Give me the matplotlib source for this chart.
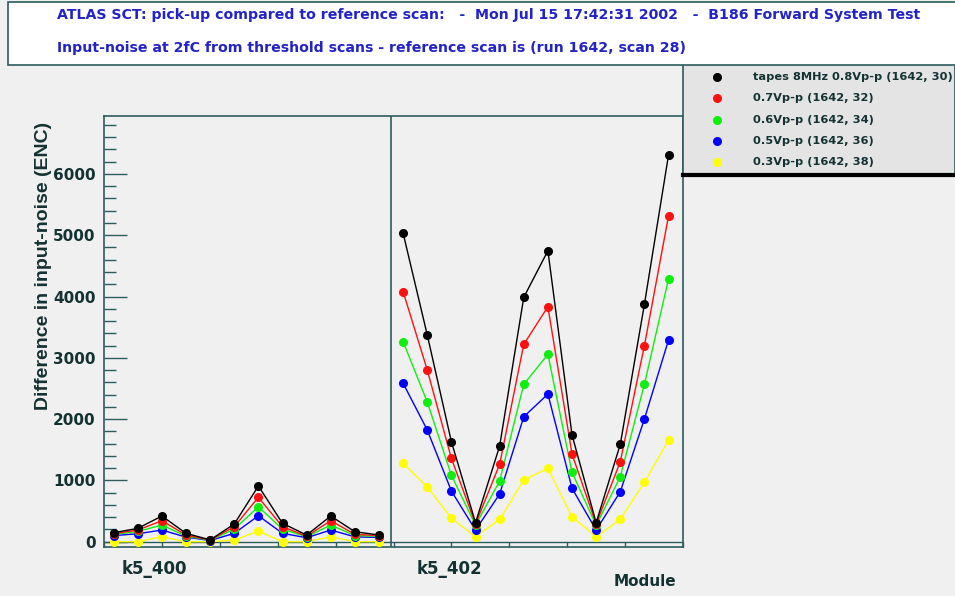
import numpy as np
import matplotlib
matplotlib.use("Agg")
import matplotlib.pyplot as plt
from matplotlib.patches import Rectangle
from matplotlib.ticker import MultipleLocator, FixedLocator

# module labels and scan legend
modules = ["k5_400", "k5_402"]
scan_labels = ["tapes 8MHz 0.8Vp-p (1642, 30)",
               "0.7Vp-p (1642, 32)",
               "0.6Vp-p (1642, 34)",
               "0.5Vp-p (1642, 36)",
               "0.3Vp-p (1642, 38)"]
scan_colors = ["#000000", "#ff1010", "#10ee10", "#0000ff", "#ffff00"]

# difference in input-noise (ENC), 12 channels per module
k5_400 = [
    [147, 218, 419, 137, 30, 289, 909, 300, 109, 419, 163, 109],
    [130, 191, 343, 109, 28, 245, 724, 245, 90, 343, 120, 100],
    [118, 168, 272, 90, 25, 205, 571, 205, 80, 272, 100, 88],
    [100, 130, 191, 75, 20, 137, 424, 137, 65, 191, 80, 70],
    [0, 0, 82, 0, 0, 28, 174, 0, 0, 82, 0, 0],
]
k5_402 = [
    [5031, 3372, 1631, 310, 1561, 3987, 4747, 1741, 310, 1588, 3872, 6308],
    [4078, 2801, 1360, 290, 1262, 3220, 3834, 1430, 290, 1305, 3198, 5313],
    [3263, 2279, 1083, 270, 990, 2567, 3057, 1132, 265, 1060, 2567, 4286],
    [2584, 1822, 827, 190, 778, 2039, 2409, 871, 190, 816, 2002, 3290],
    [1279, 897, 381, 82, 365, 1006, 1197, 408, 80, 365, 969, 1659],
]

W, H = 955, 596
bg = "#f0f0f0"
frame = "#2c5c5c"
txt = "#143232"

fig = plt.figure(figsize=(W / 100, H / 100), dpi=100, facecolor=bg)

# title box
fig.patches.append(Rectangle((8 / W, 1 - 65 / H), 1.0, 63 / H, transform=fig.transFigure,
                             facecolor="white", edgecolor=frame, lw=1.2))
fig.text(57 / W, 1 - 15 / H,
         "ATLAS SCT: pick-up compared to reference scan:   -  Mon Jul 15 17:42:31 2002   -  B186 Forward System Test",
         color="#2323c8", fontsize=10.2, fontweight="bold", va="center", ha="left")
fig.text(57 / W, 1 - 48 / H,
         "Input-noise at 2fC from threshold scans - reference scan is (run 1642, scan 28)",
         color="#2323c8", fontsize=10.2, fontweight="bold", va="center", ha="left")

ax = fig.add_axes([104 / W, 1 - 547 / H, 579 / W, 431 / H], facecolor=bg)

x_left = np.arange(12)
x_right = np.arange(12, 24)
for i in range(4, -1, -1):
    c = scan_colors[i]
    ax.plot(x_left, k5_400[i], color=c, lw=1.0, marker="o", ms=5.5, mec=c, zorder=3 + (4 - i))
    ax.plot(x_right, k5_402[i], color=c, lw=1.0, marker="o", ms=5.5, mec=c, zorder=3 + (4 - i))

ax.set_xlim(-0.4, 23.6)
ax.set_ylim(-86, 6945)
ax.axvline(11.5, color=frame, lw=1.2)
ax.axhline(0, color=frame, lw=1.0)

for s in ax.spines.values():
    s.set_color(frame)
    s.set_linewidth(1.2)

ax.yaxis.set_major_locator(MultipleLocator(1000))
ax.yaxis.set_minor_locator(MultipleLocator(200))
ax.tick_params(axis="y", which="major", direction="in", length=16.5, width=1, color=frame,
               labelsize=11, labelcolor=txt, pad=6)
ax.tick_params(axis="y", which="minor", direction="in", length=8.5, width=1, color=frame)
for lab in ax.get_yticklabels():
    lab.set_fontweight("bold")

ax.xaxis.set_major_locator(FixedLocator(-0.4 + 2.4 * np.arange(11)))
ax.tick_params(axis="x", which="major", direction="in", length=3.6, width=1, color=frame,
               labelbottom=False)

# module names under the axis
ax.text(1.7, -0.05, modules[0], transform=ax.get_xaxis_transform(), ha="center", va="center",
        fontsize=12, fontweight="bold", color=txt)
ax.text(13.9, -0.05, modules[1], transform=ax.get_xaxis_transform(), ha="center", va="center",
        fontsize=12, fontweight="bold", color=txt)

fig.text(645 / W, 1 - 582 / H, "Module", ha="center", va="center", fontsize=11,
         fontweight="bold", color=txt)
fig.text(43 / W, 1 - 266 / H, "Difference in input-noise (ENC)", rotation=90, ha="center",
         va="center", fontsize=14, fontweight="bold", family="Liberation Sans", color=txt)

# legend box
lax = fig.add_axes([683 / W, 1 - 175 / H, (W - 683) / W, 111 / H], facecolor="#e4e4e4")
lax.set_xlim(0, W - 683)
lax.set_ylim(175, 64)
lax.set_xticks([])
lax.set_yticks([])
for s in lax.spines.values():
    s.set_color(frame)
    s.set_linewidth(1.2)
lax.spines["bottom"].set_color("black")
lax.spines["bottom"].set_linewidth(3)
for i, lab in enumerate(scan_labels):
    yy = 77 + 21.3 * i
    lax.plot([34], [yy], marker="o", ms=5.5, color=scan_colors[i], mec=scan_colors[i])
    lax.text(70, yy, lab, va="center", ha="left", fontsize=8.2, fontweight="bold", color=txt)

fig.savefig("out.png", dpi=100, facecolor=bg)
